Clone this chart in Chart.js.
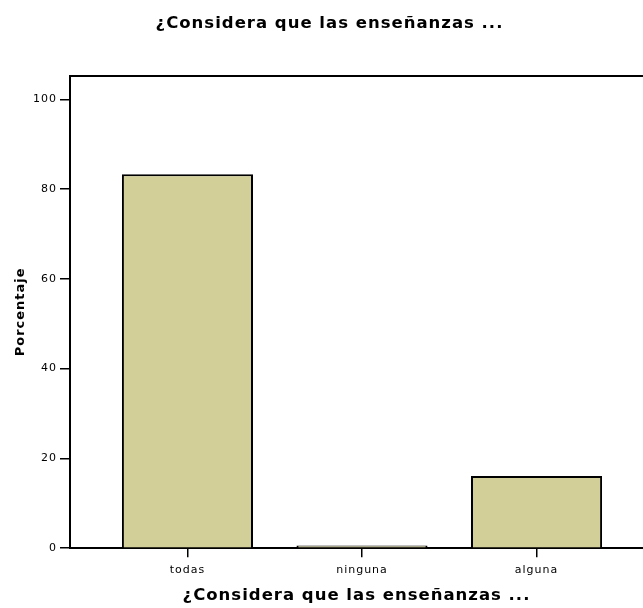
<!DOCTYPE html>
<html>
<head>
<meta charset="utf-8">
<script src="https://cdn.jsdelivr.net/npm/chart.js@4"></script>
<style>
  body { margin: 0; background: #fff; }
</style>
</head>
<body>
<canvas id="barChart" width="643" height="608"></canvas>
<script>
// data
const categories = ['todas', 'ninguna', 'alguna'];
const percentages = [83.3, 0.6, 16.1];
const yTicks = [0, 20, 40, 60, 80, 100];
const chartTitle = '¿Considera que las enseñanzas ...';
const yTitle = 'Porcentaje';

const FONT = "'DejaVu Sans', sans-serif";

// the original uses a wide font, so spread the letters a little
const letterSpacing = {
    id: 'letterSpacing',
    beforeLayout(chart) { chart.ctx.letterSpacing = '1px'; },
    beforeDraw(chart) { chart.ctx.letterSpacing = '1px'; }
};

const ctx = document.getElementById('barChart').getContext('2d');
new Chart(ctx, {
    type: 'bar',
    data: {
        datasets: [{
            data: categories.map((c, i) => ({ x: i, y: percentages[i] })),
            backgroundColor: '#d3cf98',
            borderColor: '#000',
            borderWidth: 2,
            categoryPercentage: 1,
            barPercentage: 0.751
        }]
    },
    options: {
        responsive: false,
        animation: false,
        // left padding moves the chart title a bit right, as in the original
        layout: { padding: { left: 16, right: 0, top: 0, bottom: 0 } },
        plugins: {
            legend: { display: false },
            tooltip: { enabled: false },
            title: {
                display: true,
                text: chartTitle,
                color: '#000',
                font: { family: FONT, size: 16.5, weight: 'bold' },
                padding: { top: 14, bottom: 41.7 }
            }
        },
        scales: {
            x: {
                type: 'linear',
                offset: false,
                min: -0.673,
                max: 2.61,
                afterBuildTicks(scale) {
                    scale.ticks = categories.map((c, i) => ({ value: i }));
                },
                ticks: {
                    color: '#000',
                    font: { family: FONT, size: 11 },
                    padding: 6,
                    maxRotation: 0,
                    callback: v => categories[v]
                },
                grid: {
                    offset: false,
                    drawOnChartArea: false,
                    drawTicks: true,
                    tickLength: 9,
                    color: '#000',
                    lineWidth: 1.5
                },
                border: { color: '#000', width: 2 },
                title: {
                    display: true,
                    text: chartTitle,
                    color: '#000',
                    font: { family: FONT, size: 16.5, weight: 'bold' },
                    padding: { top: 3.8, bottom: 2 }
                }
            },
            x2: {
                type: 'linear',
                position: 'top',
                min: 0,
                max: 1,
                ticks: { display: false },
                grid: { drawOnChartArea: false, drawTicks: false },
                border: { color: '#000', width: 2 }
            },
            y: {
                min: 0,
                max: 105.3,
                afterBuildTicks(scale) {
                    scale.ticks = yTicks.map(v => ({ value: v }));
                },
                afterFit(scale) {
                    scale.width = 54;
                },
                ticks: {
                    color: '#000',
                    font: { family: FONT, size: 11 },
                    padding: 3
                },
                grid: {
                    drawOnChartArea: false,
                    drawTicks: true,
                    tickLength: 10,
                    color: '#000',
                    lineWidth: 1.5
                },
                border: { color: '#000', width: 2 },
                title: {
                    display: true,
                    text: yTitle,
                    color: '#000',
                    font: { family: FONT, size: 13, weight: 'bold' },
                    padding: { top: -3.5, bottom: 0 }
                }
            }
        }
    },
    plugins: [letterSpacing]
});
</script>
</body>
</html>
